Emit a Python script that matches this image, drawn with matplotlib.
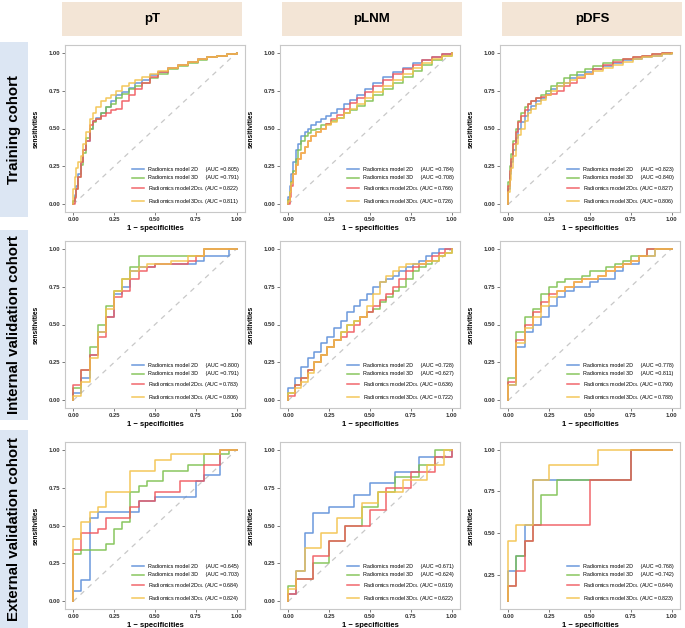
import matplotlib
matplotlib.use("Agg")
import matplotlib.pyplot as plt
from matplotlib.patches import Rectangle

plt.rcParams["font.family"] = ["Liberation Sans", "DejaVu Sans"]

targets = ["pT", "pLNM", "pDFS"]
cohorts = ["Training cohort", "Internal validation cohort", "External validation cohort"]
models = ["Radiomics model 2D    ", "Radiomics model 3D    ",
          "Radiomics model 2D$_{\\rm DL}$", "Radiomics model 3D$_{\\rm DL}$"]
colors = ["#5b8ed8", "#7cc04e", "#f0575c", "#f3c24a"]

# AUC values: rows = cohort, cols = target, 4 models each
auc = [
    [[0.805, 0.791, 0.822, 0.811], [0.784, 0.708, 0.766, 0.726], [0.823, 0.840, 0.827, 0.806]],
    [[0.800, 0.791, 0.783, 0.806], [0.728, 0.627, 0.636, 0.722], [0.778, 0.811, 0.790, 0.788]],
    [[0.645, 0.703, 0.684, 0.824], [0.671, 0.624, 0.619, 0.622], [0.768, 0.742, 0.644, 0.823]],
]

# ---- training cohort: shared 1-specificity grid, sensitivities per model (step curves)
fpr_train = [0, 0, 0.01, 0.02, 0.03, 0.05, 0.06, 0.08, 0.1, 0.12, 0.14, 0.17, 0.2, 0.23, 0.26, 0.3,
             0.34, 0.38, 0.42, 0.47, 0.52, 0.58, 0.64, 0.7, 0.76, 0.82, 0.88, 0.94, 1]
pt_train_2d = [0, 0.02, 0.06, 0.12, 0.2, 0.28, 0.36, 0.42, 0.5, 0.55, 0.57, 0.6, 0.64, 0.68, 0.72, 0.74,
               0.77, 0.8, 0.82, 0.85, 0.87, 0.9, 0.92, 0.94, 0.96, 0.97, 0.98, 0.99, 1]
pt_train_3d = [0, 0.02, 0.05, 0.1, 0.18, 0.26, 0.34, 0.44, 0.5, 0.54, 0.56, 0.6, 0.64, 0.66, 0.7, 0.73,
               0.76, 0.78, 0.8, 0.83, 0.86, 0.89, 0.91, 0.93, 0.95, 0.97, 0.98, 0.99, 1]
pt_train_2ddl = [0, 0.0, 0.04, 0.1, 0.18, 0.28, 0.36, 0.42, 0.52, 0.55, 0.56, 0.58, 0.6, 0.62, 0.63, 0.68,
                 0.72, 0.76, 0.8, 0.84, 0.87, 0.9, 0.92, 0.94, 0.96, 0.97, 0.98, 0.99, 1]
pt_train_3ddl = [0, 0.1, 0.18, 0.24, 0.28, 0.32, 0.4, 0.48, 0.56, 0.6, 0.64, 0.68, 0.7, 0.72, 0.75, 0.78,
                 0.8, 0.82, 0.84, 0.86, 0.88, 0.9, 0.92, 0.94, 0.96, 0.97, 0.98, 0.99, 1]

plnm_train_2d = [0, 0.05, 0.12, 0.2, 0.28, 0.36, 0.4, 0.45, 0.48, 0.5, 0.52, 0.54, 0.56, 0.58, 0.6, 0.63,
                 0.66, 0.69, 0.72, 0.76, 0.8, 0.84, 0.87, 0.9, 0.93, 0.95, 0.97, 0.99, 1]
plnm_train_3d = [0, 0.03, 0.08, 0.15, 0.22, 0.3, 0.36, 0.42, 0.45, 0.47, 0.49, 0.5, 0.52, 0.53, 0.55, 0.57,
                 0.6, 0.62, 0.65, 0.68, 0.72, 0.76, 0.8, 0.84, 0.88, 0.92, 0.95, 0.98, 1]
plnm_train_2ddl = [0, 0.0, 0.05, 0.12, 0.2, 0.26, 0.3, 0.34, 0.38, 0.42, 0.45, 0.48, 0.5, 0.53, 0.56, 0.59,
                   0.63, 0.67, 0.7, 0.74, 0.78, 0.82, 0.86, 0.89, 0.92, 0.95, 0.97, 0.99, 1]
plnm_train_3ddl = [0, 0.02, 0.08, 0.14, 0.2, 0.26, 0.3, 0.34, 0.38, 0.42, 0.45, 0.48, 0.5, 0.52, 0.54, 0.57,
                   0.6, 0.63, 0.66, 0.7, 0.74, 0.78, 0.82, 0.86, 0.9, 0.93, 0.96, 0.98, 1]

pdfs_train_2d = [0, 0.1, 0.2, 0.28, 0.36, 0.44, 0.5, 0.54, 0.58, 0.62, 0.65, 0.68, 0.7, 0.73, 0.76, 0.78,
                 0.8, 0.83, 0.85, 0.87, 0.89, 0.91, 0.93, 0.95, 0.96, 0.97, 0.98, 0.99, 1]
pdfs_train_3d = [0, 0.15, 0.25, 0.33, 0.42, 0.5, 0.55, 0.6, 0.64, 0.66, 0.68, 0.7, 0.72, 0.75, 0.78, 0.8,
                 0.83, 0.85, 0.87, 0.89, 0.91, 0.93, 0.95, 0.96, 0.97, 0.98, 0.99, 1, 1]
pdfs_train_2ddl = [0, 0.12, 0.22, 0.3, 0.4, 0.48, 0.54, 0.58, 0.62, 0.66, 0.68, 0.7, 0.71, 0.72, 0.73, 0.75,
                   0.78, 0.8, 0.83, 0.86, 0.89, 0.92, 0.94, 0.96, 0.97, 0.98, 0.99, 1, 1]
pdfs_train_3ddl = [0, 0.08, 0.16, 0.24, 0.32, 0.4, 0.46, 0.5, 0.55, 0.6, 0.63, 0.66, 0.69, 0.72, 0.75, 0.78,
                   0.8, 0.82, 0.84, 0.86, 0.88, 0.9, 0.92, 0.94, 0.96, 0.97, 0.98, 0.99, 1]

# ---- internal validation cohort
fpr_int_pt = [0, 0, 0.05, 0.1, 0.15, 0.2, 0.25, 0.3, 0.35, 0.4, 0.45, 0.5, 0.55, 0.6, 0.65, 0.7, 0.75,
              0.8, 0.85, 0.9, 0.95, 1]
pt_int_2d = [0, 0.05, 0.15, 0.3, 0.45, 0.55, 0.7, 0.75, 0.85, 0.88, 0.88, 0.9, 0.9, 0.9, 0.9, 0.9, 0.92,
             0.95, 0.95, 0.95, 1, 1]
pt_int_3d = [0, 0.08, 0.2, 0.35, 0.5, 0.62, 0.72, 0.8, 0.88, 0.95, 0.95, 0.95, 0.95, 0.95, 0.95, 0.95,
             0.95, 1, 1, 1, 1, 1]
pt_int_2ddl = [0, 0.1, 0.2, 0.3, 0.42, 0.55, 0.68, 0.72, 0.8, 0.85, 0.88, 0.9, 0.9, 0.9, 0.9, 0.92, 0.95,
               1, 1, 1, 1, 1]
pt_int_3ddl = [0, 0.03, 0.12, 0.28, 0.45, 0.6, 0.72, 0.8, 0.85, 0.88, 0.9, 0.9, 0.9, 0.92, 0.92, 0.95,
               0.95, 1, 1, 1, 1, 1]

fpr_int_plnm = [0, 0, 0.04, 0.08, 0.12, 0.16, 0.2, 0.24, 0.28, 0.32, 0.36, 0.4, 0.44, 0.48, 0.52, 0.56,
                0.6, 0.64, 0.68, 0.72, 0.76, 0.8, 0.84, 0.88, 0.92, 0.96, 1]
plnm_int_2d = [0, 0.08, 0.15, 0.22, 0.28, 0.32, 0.38, 0.42, 0.48, 0.52, 0.58, 0.62, 0.66, 0.7, 0.75, 0.78,
               0.8, 0.82, 0.85, 0.88, 0.9, 0.92, 0.95, 0.97, 1, 1, 1]
plnm_int_3d = [0, 0.05, 0.1, 0.15, 0.2, 0.25, 0.3, 0.35, 0.4, 0.45, 0.5, 0.52, 0.55, 0.58, 0.6, 0.65, 0.68,
               0.72, 0.75, 0.8, 0.85, 0.88, 0.9, 0.92, 0.95, 0.97, 1]
plnm_int_2ddl = [0, 0.03, 0.1, 0.15, 0.2, 0.25, 0.3, 0.35, 0.4, 0.42, 0.45, 0.5, 0.55, 0.58, 0.62, 0.66,
                 0.7, 0.75, 0.8, 0.85, 0.88, 0.9, 0.92, 0.95, 0.97, 1, 1]
plnm_int_3ddl = [0, 0.05, 0.08, 0.12, 0.18, 0.25, 0.3, 0.35, 0.4, 0.45, 0.5, 0.52, 0.55, 0.62, 0.7, 0.78,
                 0.82, 0.85, 0.88, 0.9, 0.9, 0.9, 0.92, 0.92, 0.95, 0.97, 1]

fpr_int_pdfs = fpr_int_pt
pdfs_int_2d = [0, 0.1, 0.35, 0.45, 0.5, 0.55, 0.62, 0.68, 0.72, 0.75, 0.75, 0.78, 0.8, 0.8, 0.85, 0.9,
               0.9, 0.95, 0.95, 1, 1, 1]
pdfs_int_3d = [0, 0.15, 0.45, 0.55, 0.6, 0.7, 0.75, 0.78, 0.8, 0.8, 0.82, 0.85, 0.85, 0.88, 0.9, 0.92,
               0.95, 0.95, 1, 1, 1, 1]
pdfs_int_2ddl = [0, 0.12, 0.4, 0.5, 0.58, 0.65, 0.7, 0.72, 0.75, 0.78, 0.8, 0.8, 0.82, 0.85, 0.88, 0.9,
                 0.92, 0.95, 1, 1, 1, 1]
pdfs_int_3ddl = [0, 0.1, 0.38, 0.48, 0.55, 0.62, 0.68, 0.72, 0.75, 0.78, 0.8, 0.8, 0.82, 0.85, 0.88,
                 0.9, 0.92, 0.95, 0.95, 1, 1, 1]

# ---- external validation cohort: ROC vertices (1 - specificity, sensitivity)
pt_ext_2d = [(0, 0), (0, 0.07), (0.05, 0.07), (0.05, 0.14), (0.1, 0.14), (0.1, 0.55), (0.15, 0.55), (0.15, 0.59),
             (0.4, 0.59), (0.4, 0.66), (0.5, 0.66), (0.5, 0.69), (0.75, 0.69), (0.75, 0.79), (0.8, 0.79),
             (0.8, 0.83), (0.9, 0.83), (0.9, 1), (1, 1)]
pt_ext_3d = [(0, 0), (0, 0.31), (0.05, 0.31), (0.05, 0.34), (0.2, 0.34), (0.2, 0.38), (0.25, 0.38), (0.25, 0.48),
             (0.3, 0.48), (0.3, 0.52), (0.35, 0.52), (0.35, 0.72), (0.4, 0.72), (0.4, 0.76), (0.45, 0.76),
             (0.45, 0.79), (0.55, 0.79), (0.55, 0.86), (0.7, 0.86), (0.7, 0.9), (0.8, 0.9), (0.8, 0.97),
             (0.95, 0.97), (0.95, 1), (1, 1)]
pt_ext_2ddl = [(0, 0), (0, 0.34), (0.05, 0.34), (0.05, 0.45), (0.15, 0.45), (0.15, 0.48), (0.2, 0.48), (0.2, 0.55),
               (0.35, 0.55), (0.35, 0.62), (0.4, 0.62), (0.4, 0.66), (0.5, 0.66), (0.5, 0.72), (0.65, 0.72),
               (0.65, 0.79), (0.8, 0.79), (0.8, 0.9), (0.9, 0.9), (0.9, 1), (1, 1)]
pt_ext_3ddl = [(0, 0), (0, 0.41), (0.05, 0.41), (0.05, 0.52), (0.1, 0.52), (0.1, 0.59), (0.15, 0.59), (0.15, 0.62),
               (0.2, 0.62), (0.2, 0.72), (0.35, 0.72), (0.35, 0.86), (0.5, 0.86), (0.5, 0.93), (0.6, 0.93),
               (0.6, 0.97), (0.9, 0.97), (0.9, 1), (1, 1)]

plnm_ext_2d = [(0, 0), (0, 0.05), (0.05, 0.05), (0.05, 0.2), (0.1, 0.2), (0.1, 0.45), (0.15, 0.45), (0.15, 0.58),
               (0.25, 0.58), (0.25, 0.62), (0.4, 0.62), (0.4, 0.7), (0.5, 0.7), (0.5, 0.78), (0.65, 0.78),
               (0.65, 0.85), (0.8, 0.85), (0.8, 0.95), (1, 0.95), (1, 1)]
plnm_ext_3d = [(0, 0), (0, 0.1), (0.05, 0.1), (0.05, 0.15), (0.15, 0.15), (0.15, 0.25), (0.25, 0.25), (0.25, 0.4),
               (0.35, 0.4), (0.35, 0.5), (0.45, 0.5), (0.45, 0.62), (0.55, 0.62), (0.55, 0.72), (0.65, 0.72),
               (0.65, 0.82), (0.8, 0.82), (0.8, 0.9), (0.9, 0.9), (0.9, 1), (1, 1)]
plnm_ext_2ddl = [(0, 0), (0, 0.05), (0.05, 0.05), (0.05, 0.15), (0.15, 0.15), (0.15, 0.3), (0.25, 0.3), (0.25, 0.4),
                 (0.35, 0.4), (0.35, 0.5), (0.5, 0.5), (0.5, 0.6), (0.6, 0.6), (0.6, 0.75), (0.75, 0.75),
                 (0.75, 0.85), (0.9, 0.85), (0.9, 0.95), (1, 0.95), (1, 1)]
plnm_ext_3ddl = [(0, 0), (0, 0.08), (0.05, 0.08), (0.05, 0.2), (0.1, 0.2), (0.1, 0.35), (0.2, 0.35), (0.2, 0.45),
                 (0.3, 0.45), (0.3, 0.55), (0.45, 0.55), (0.45, 0.65), (0.55, 0.65), (0.55, 0.72), (0.7, 0.72),
                 (0.7, 0.8), (0.85, 0.8), (0.85, 0.9), (0.95, 0.9), (0.95, 1), (1, 1)]

pdfs_ext_2d = [(0, 0.09), (0, 0.27), (0.05, 0.27), (0.05, 0.36), (0.1, 0.36), (0.1, 0.55), (0.15, 0.55),
               (0.15, 0.82), (0.75, 0.82), (0.75, 1), (1, 1)]
pdfs_ext_3d = [(0, 0.09), (0, 0.18), (0.05, 0.18), (0.05, 0.36), (0.1, 0.36), (0.1, 0.45), (0.15, 0.45),
               (0.15, 0.55), (0.2, 0.55), (0.2, 0.73), (0.3, 0.73), (0.3, 0.82), (0.75, 0.82), (0.75, 1), (1, 1)]
pdfs_ext_2ddl = [(0, 0.09), (0, 0.18), (0.05, 0.18), (0.05, 0.27), (0.1, 0.27), (0.1, 0.45), (0.15, 0.45),
                 (0.15, 0.55), (0.5, 0.55), (0.5, 0.82), (0.75, 0.82), (0.75, 1), (1, 1)]
pdfs_ext_3ddl = [(0, 0.09), (0, 0.45), (0.05, 0.45), (0.05, 0.55), (0.15, 0.55), (0.15, 0.82), (0.25, 0.82),
                 (0.25, 0.91), (0.55, 0.91), (0.55, 1), (1, 1)]

step_panels = [
    [(fpr_train, [pt_train_2d, pt_train_3d, pt_train_2ddl, pt_train_3ddl]),
     (fpr_train, [plnm_train_2d, plnm_train_3d, plnm_train_2ddl, plnm_train_3ddl]),
     (fpr_train, [pdfs_train_2d, pdfs_train_3d, pdfs_train_2ddl, pdfs_train_3ddl])],
    [(fpr_int_pt, [pt_int_2d, pt_int_3d, pt_int_2ddl, pt_int_3ddl]),
     (fpr_int_plnm, [plnm_int_2d, plnm_int_3d, plnm_int_2ddl, plnm_int_3ddl]),
     (fpr_int_pdfs, [pdfs_int_2d, pdfs_int_3d, pdfs_int_2ddl, pdfs_int_3ddl])],
]
ext_panels = [
    [pt_ext_2d, pt_ext_3d, pt_ext_2ddl, pt_ext_3ddl],
    [plnm_ext_2d, plnm_ext_3d, plnm_ext_2ddl, plnm_ext_3ddl],
    [pdfs_ext_2d, pdfs_ext_3d, pdfs_ext_2ddl, pdfs_ext_3ddl],
]

W, H = 685, 628
fig = plt.figure(figsize=(W / 100, H / 100), dpi=100)

# pixel layout
col_left = [65, 280, 500]
row_top = [45, 241, 442]
ax_w, ax_h = 180, 167


def px(x, y, w, h):
    return [x / W, 1 - (y + h) / H, w / W, h / H]


# column headers
for j, t in enumerate(targets):
    x0 = [62, 282, 502][j]
    fig.patches.append(Rectangle((x0 / W, 1 - 36 / H), 180 / W, 34 / H, transform=fig.transFigure,
                                 facecolor="#f3e5d6", edgecolor="none"))
    fig.text((x0 + 90) / W, 1 - 19 / H, t, ha="center", va="center", fontsize=9.5, fontweight="bold")

# row labels
row_boxes = [(42, 175), (230, 190), (430, 198)]
for i, c in enumerate(cohorts):
    y0, h = row_boxes[i]
    fig.patches.append(Rectangle((0, 1 - (y0 + h) / H), 28 / W, h / H, transform=fig.transFigure,
                                 facecolor="#dce6f3", edgecolor="none"))
    fig.text(14 / W, 1 - (y0 + h / 2) / H, c, ha="center", va="center", rotation=90,
             fontsize=10.8, fontweight="bold")

tick_vals = [0, 0.25, 0.5, 0.75, 1.0]
tick_labs = ["0.00", "0.25", "0.50", "0.75", "1.00"]

for i in range(3):
    for j in range(3):
        ax = fig.add_axes(px(col_left[j], row_top[i], ax_w, ax_h))
        no_diag = (i == 2 and j == 2)
        if not no_diag:
            ax.plot([0, 1], [0, 1], ls=(0, (4, 4)), color="#c8c8c8", lw=0.9)
        for k in range(4):
            lab = f"{models[k]} (AUC =" + f"{auc[i][j][k]:.3f})"
            if i < 2:
                fpr, sens = step_panels[i][j][0], step_panels[i][j][1][k]
                ax.plot(fpr, sens, drawstyle="steps-post", color=colors[k], lw=1.1, alpha=0.9, label=lab)
            else:
                pts = ext_panels[j][k]
                ax.plot([p[0] for p in pts], [p[1] for p in pts], color=colors[k], lw=1.1, alpha=0.9, label=lab)
        ax.set_xlim(-0.05, 1.05)
        if no_diag:
            lo = 0.09
            ax.set_ylim(lo - 0.05 * (1 - lo), 1 + 0.05 * (1 - lo))
            ax.set_yticks(tick_vals[1:])
            ax.set_yticklabels(tick_labs[1:])
        else:
            ax.set_ylim(-0.05, 1.05)
            ax.set_yticks(tick_vals)
            ax.set_yticklabels(tick_labs)
        ax.set_xticks(tick_vals)
        ax.set_xticklabels(tick_labs)
        ax.tick_params(labelsize=4.2, length=2, width=0.5, color="#444444", pad=1.5)
        for t in ax.get_xticklabels() + ax.get_yticklabels():
            t.set_fontweight("bold")
            t.set_color("#333333")
        for s in ax.spines.values():
            s.set_color("#c8c8c8")
            s.set_linewidth(0.8)
        ax.set_xlabel("1 \u2212 specificities", fontsize=5.5, fontweight="bold", labelpad=2)
        ax.set_ylabel("sensitivities", fontsize=4.8, fontweight="bold", labelpad=6)
        ax.legend(loc="lower right", fontsize=3.9, frameon=False, handlelength=2.2,
                  labelspacing=0.7, borderaxespad=0.7, handletextpad=0.8)

fig.savefig("out.png", dpi=100)
